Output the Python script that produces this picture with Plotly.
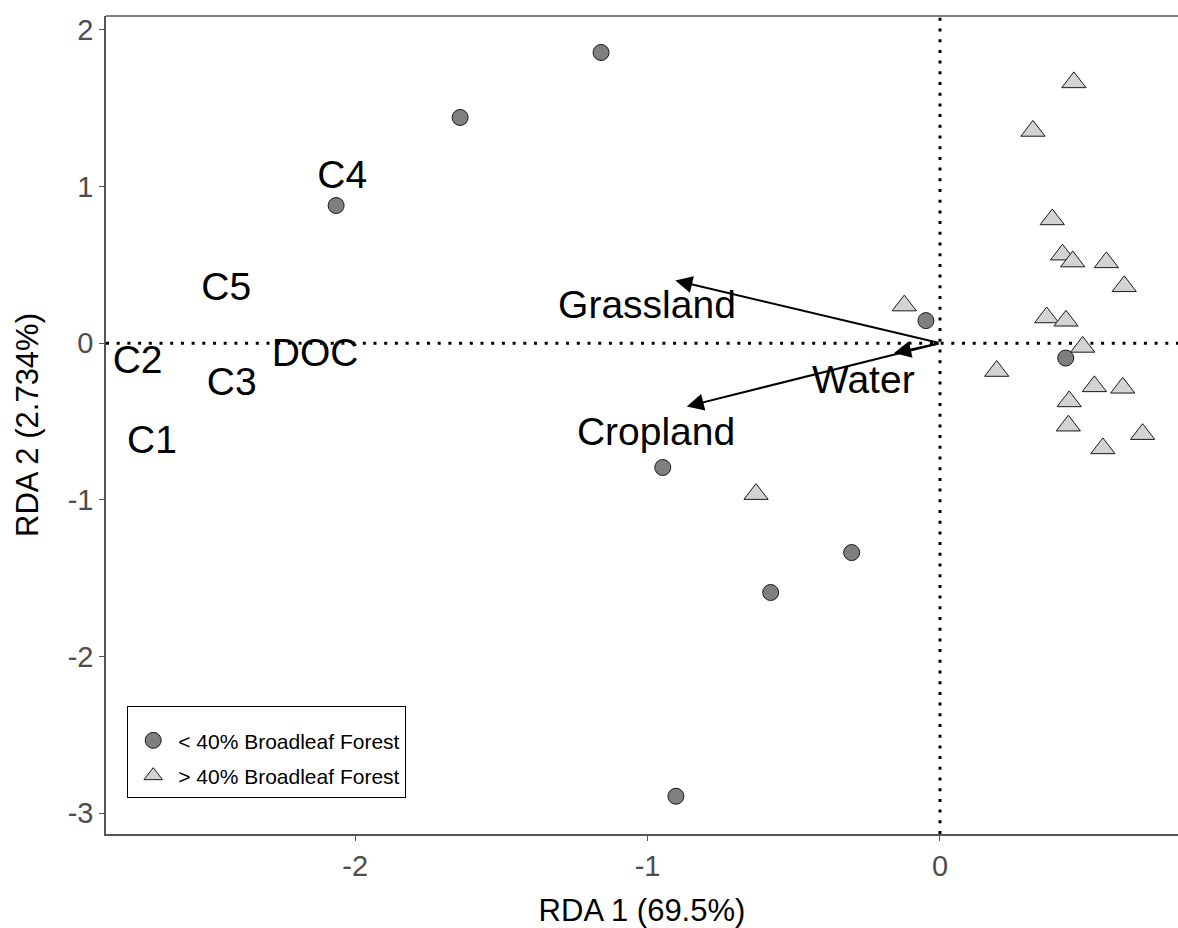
import plotly.graph_objects as go

# Site scores, split by broadleaf forest cover
low_x = [-1.159, -1.641, -2.065, -0.048, 0.430, -0.948, -0.302, -0.579, -0.903]
low_y = [1.856, 1.441, 0.879, 0.144, -0.095, -0.794, -1.337, -1.592, -2.893]

high_x = [0.458, 0.318, 0.384, 0.419, 0.454, 0.569, 0.630, 0.365, 0.431, 0.488,
          0.194, 0.528, 0.625, 0.442, 0.439, 0.693, 0.557, -0.122, -0.629]
high_y = [1.665, 1.355, 0.790, 0.565, 0.521, 0.516, 0.363, 0.164, 0.143, -0.024,
          -0.178, -0.276, -0.285, -0.372, -0.527, -0.581, -0.672, 0.240, -0.964]

# Response variable labels
resp_names = ["C1", "C2", "C3", "C4", "C5", "DOC"]
resp_x = [-2.695, -2.744, -2.422, -2.044, -2.441, -2.137]
resp_y = [-0.640, -0.128, -0.267, 1.053, 0.339, -0.086]

# Explanatory (land cover) biplot arrows
env_names = ["Grassland", "Water", "Cropland"]
env_x = [-0.905, -0.157, -0.866]
env_y = [0.400, -0.063, -0.404]
env_lab_x = [-1.002, -0.262, -0.971]
env_lab_y = [0.223, -0.256, -0.589]

x_range = [-2.852, 0.814]
y_range = [-3.134, 2.089]
x_ticks = [-2, -1, 0]
y_ticks = [-3, -2, -1, 0, 1, 2]

FONT = "Liberation Sans, Arial, sans-serif"
AXIS_COLOR = "#555555"

fig = go.Figure()

fig.add_trace(go.Scatter(
    x=resp_x, y=resp_y, mode="text", text=resp_names,
    textposition="middle center",
    textfont=dict(family=FONT, size=39, color="black"),
    showlegend=False, hoverinfo="skip",
))

fig.add_trace(go.Scatter(
    x=env_lab_x, y=env_lab_y, mode="text", text=env_names,
    textposition="middle center",
    textfont=dict(family=FONT, size=39, color="black"),
    showlegend=False, hoverinfo="skip",
))

fig.add_trace(go.Scatter(
    x=low_x, y=low_y, mode="markers", name="< 40% Broadleaf Forest",
    legendgroup="low",
    marker=dict(symbol="circle", size=16, color="#7f7f7f",
                line=dict(color="#1a1a1a", width=1)),
))

fig.add_trace(go.Scatter(
    x=high_x, y=high_y, mode="markers", name="> 40% Broadleaf Forest",
    legendgroup="high",
    marker=dict(symbol="triangle-up", size=21, color="#d3d3d3",
                line=dict(color="#1a1a1a", width=1)),
))

# Dotted reference lines through the origin
dot = "3px,7.7px"
fig.add_shape(type="line", xref="paper", yref="y", x0=0, x1=1, y0=0, y1=0,
              line=dict(color="black", width=3, dash=dot), layer="below")
fig.add_shape(type="line", xref="x", yref="paper", x0=0, x1=0, y0=0, y1=1,
              line=dict(color="black", width=3, dash=dot), layer="below")

# Top border of the panel (the panel runs off the right edge)
fig.add_shape(type="line", xref="paper", yref="paper", x0=0, x1=1, y0=1, y1=1,
              line=dict(color=AXIS_COLOR, width=1.5))

# Arrows from the origin
for ex, ey in zip(env_x, env_y):
    fig.add_annotation(
        x=ex, y=ey, ax=0, ay=0, xref="x", yref="y", axref="x", ayref="y",
        text="", showarrow=True, arrowhead=2, arrowsize=1.7, arrowwidth=2,
        arrowcolor="black",
    )

fig.update_layout(
    width=1178, height=928,
    margin=dict(l=106, r=0, t=16, b=94),
    paper_bgcolor="white", plot_bgcolor="white",
    font=dict(family=FONT),
    showlegend=True,
    legend=dict(
        x=0.0195, y=0.1566, xanchor="left", yanchor="top",
        bgcolor="white", bordercolor="black", borderwidth=1.3,
        font=dict(family=FONT, size=21, color="black"),
        title=dict(text=" ", font=dict(size=10)),
        itemwidth=40, tracegroupgap=5,
    ),
    xaxis=dict(
        range=x_range, tickvals=x_ticks, ticktext=[str(v) for v in x_ticks],
        showgrid=False, zeroline=False,
        showline=True, mirror=False, linecolor=AXIS_COLOR, linewidth=1.5,
        ticks="outside", ticklen=5, tickcolor=AXIS_COLOR, tickwidth=1.3,
        tickfont=dict(family=FONT, size=29, color="#4d4d4d"),
        title=dict(text="RDA 1 (69.5%)", standoff=22,
                   font=dict(family=FONT, size=31, color="black")),
    ),
    yaxis=dict(
        range=y_range, tickvals=y_ticks, ticktext=[str(v) for v in y_ticks],
        showgrid=False, zeroline=False,
        showline=True, mirror=False, linecolor=AXIS_COLOR, linewidth=1.5,
        ticks="outside", ticklen=5, tickcolor=AXIS_COLOR, tickwidth=1.3,
        tickfont=dict(family=FONT, size=29, color="#4d4d4d"),
        title=dict(text="RDA 2 (2.734%)", standoff=20,
                   font=dict(family=FONT, size=31, color="black")),
    ),
)

fig.write_html("out.html")
